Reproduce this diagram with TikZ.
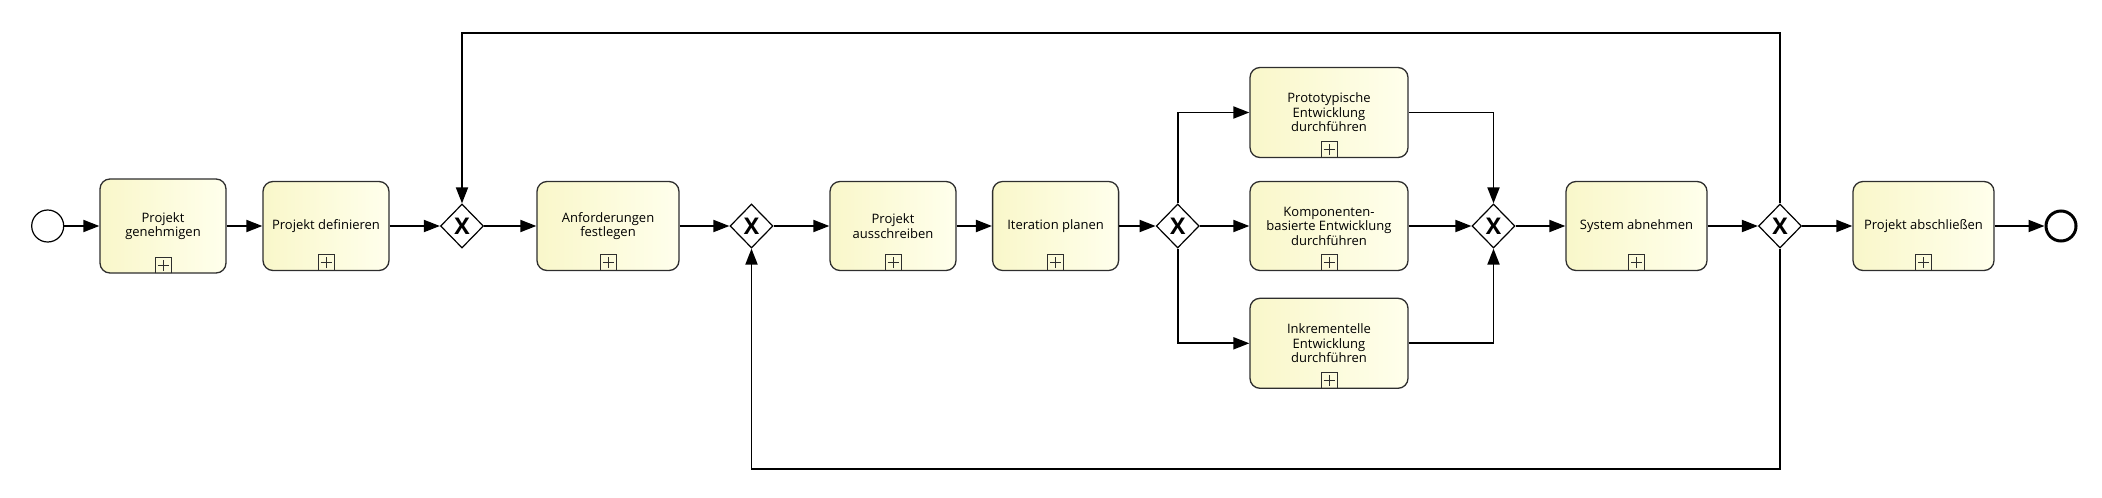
\documentclass[tikz,border=0pt]{standalone}
\usepackage{fontspec}
\setmainfont{Open Sans}
\usetikzlibrary{shapes.geometric,arrows.meta,calc}
\definecolor{taskL}{HTML}{F9F7CA}
\definecolor{taskR}{HTML}{FFFFEC}
\definecolor{bord}{HTML}{2E2E2E}
\tikzset{
  task/.style={draw=bord, line width=1.3pt, rounded corners=10pt,
    left color=taskL, right color=taskR, minimum height=89pt, minimum width=126pt,
    inner sep=0pt, align=center, font=\fontsize{13}{14.5}\selectfont,
    path picture={
      \draw[bord, line width=1pt, sharp corners] ($(path picture bounding box.south)+(-8pt,0pt)$) rectangle ++(16pt,16pt);
      \draw[bord, line width=0.8pt, sharp corners] ($(path picture bounding box.south)+(-5.5pt,8pt)$) -- ++(11pt,0pt)
        ($(path picture bounding box.south)+(0pt,2.5pt)$) -- ++(0pt,11pt);
    }},
  gw/.style={shape=diamond, draw=black, line width=1.2pt, fill=white,
    minimum width=43pt, minimum height=44pt, inner sep=0pt,
    font=\fontsize{23}{23}\bfseries\selectfont},
  startev/.style={circle, draw=black, line width=1.2pt, fill=white, minimum size=32pt, inner sep=0pt},
  endev/.style={circle, draw=black, line width=3pt, fill=white, minimum size=30pt, inner sep=0pt},
  flow/.style={line width=1.9pt, -{Triangle[length=16pt,width=12pt]}},
}
\begin{document}
\begin{tikzpicture}[x=1pt,y=-1pt]
\useasboundingbox (0,0) rectangle (2102,498);
\node[startev] (s) at (47.7,226) {};
\node[task, minimum height=94pt] (t1) at (163,226) {Projekt\\genehmigen};
\node[task] (t2) at (326,226) {Projekt definieren};
\node[gw] (g1) at (462,226) {X};
\node[task, minimum width=142pt] (anf) at (608,226) {Anforderungen\\festlegen};
\node[gw] (g2) at (751.5,226) {X};
\node[task] (aus) at (893,226) {Projekt\\ausschreiben};
\node[task] (it) at (1055.6,226) {Iteration planen};
\node[gw] (g3) at (1177.7,226) {X};
\node[task, minimum width=158pt, minimum height=90pt] (proto) at (1329,112.5) {Prototypische\\Entwicklung\\durchführen};
\node[task, minimum width=158pt] (komp) at (1329,226) {Komponenten-\\basierte Entwicklung\\durchführen};
\node[task, minimum width=158pt, minimum height=90pt] (inkr) at (1329,343.3) {Inkrementelle\\Entwicklung\\durchführen};
\node[gw] (g4) at (1493.5,226) {X};
\node[task, minimum width=141pt] (sys) at (1636.5,226) {System abnehmen};
\node[gw] (g5) at (1780,226) {X};
\node[task, minimum width=141pt] (abs) at (1923.5,226) {Projekt abschließen};
\node[endev] (e) at (2061,226) {};
\coordinate (top) at (462,33.3);
\coordinate (bot) at (751.5,469);

\draw[flow] (s) -- (t1);
\draw[flow] (t1) -- (t2);
\draw[flow] (t2) -- (g1);
\draw[flow] (g1) -- (anf);
\draw[flow] (anf) -- (g2);
\draw[flow] (g2) -- (aus);
\draw[flow] (aus) -- (it);
\draw[flow] (it) -- (g3);
\draw[flow] (g3.north) |- (proto);
\draw[flow] (g3) -- (komp);
\draw[flow] (g3.south) |- (inkr);
\draw[flow] (proto) -| (g4.north);
\draw[flow] (komp) -- (g4);
\draw[flow] (inkr) -| (g4.south);
\draw[flow] (g4) -- (sys);
\draw[flow] (sys) -- (g5);
\draw[flow] (g5) -- (abs);
\draw[flow] (abs) -- (e);
\draw[flow] (g5.north) |- (top) -- (g1.north);
\draw[flow] (g5.south) |- (bot) -- (g2.south);
\end{tikzpicture}
\end{document}
